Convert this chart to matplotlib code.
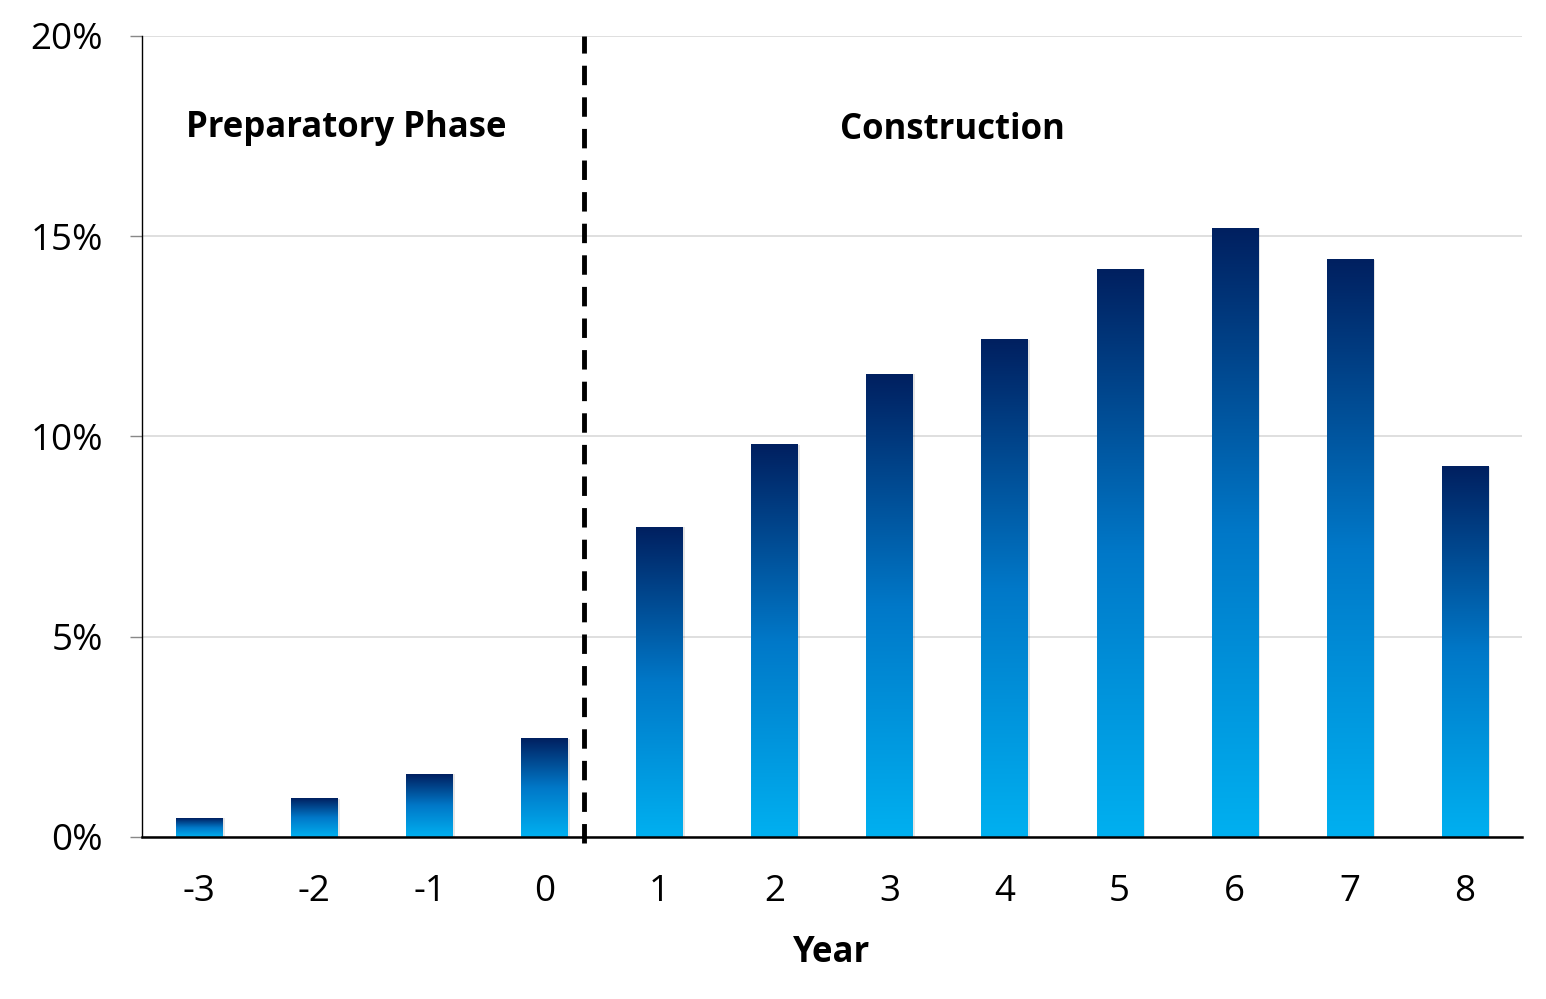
import numpy as np
import matplotlib.pyplot as plt
from matplotlib.colors import LinearSegmentedColormap
from matplotlib.patches import Rectangle
from matplotlib.ticker import PercentFormatter

plt.rcParams['font.family'] = ['Open Sans', 'DejaVu Sans']

# data (share of total, in %)
years = [-3, -2, -1, 0, 1, 2, 3, 4, 5, 6, 7, 8]
share = [0.47, 0.95, 1.57, 2.45, 7.74, 9.79, 11.56, 12.41, 14.18, 15.2, 14.41, 9.24]
phase_labels = ['Preparatory Phase', 'Construction']

fig = plt.figure(figsize=(15.46, 9.99), dpi=100)
ax = fig.add_axes([0.0918, 0.1622, 0.8927, 0.8018])

# navy at top -> blue -> cyan at bottom
cmap = LinearSegmentedColormap.from_list('bars', ['#00b0f0', '#0078c8', '#002060'])
grad = np.linspace(0, 1, 256).reshape(-1, 1)
width = 0.4

for x, h in zip(years, share):
    # soft shadow
    ax.add_patch(Rectangle((x - width / 2 + 0.025, 0), width, h, color='#000000',
                           alpha=0.1, lw=0, zorder=2))
    ax.imshow(grad, cmap=cmap, origin='lower', aspect='auto',
              extent=(x - width / 2, x + width / 2, 0, h), zorder=3)

ax.set_xlim(-3.5, 8.5)
ax.set_ylim(0, 20)

ax.yaxis.set_major_formatter(PercentFormatter(decimals=0))
ax.set_yticks([0, 5, 10, 15, 20])
ax.set_xticks(years)
ax.set_xticklabels([str(y) for y in years])
ax.tick_params(axis='y', labelsize=26.5, length=9, width=1, color='#888888', pad=19)
ax.tick_params(axis='x', labelsize=26.5, length=0, pad=27)
ax.grid(axis='y', color='#d9d9d9', lw=1.2, zorder=0)
ax.set_axisbelow(True)

for s in ['top', 'right']:
    ax.spines[s].set_visible(False)
ax.spines['left'].set_color('#000000')
ax.spines['left'].set_linewidth(1)
ax.spines['bottom'].set_linewidth(1.8)
ax.spines['bottom'].set_zorder(5)

ax.set_xlabel('Year', fontsize=25, fontweight='bold', labelpad=18)

# phase divider
ax.plot([0.34, 0.34], [-0.15, 20], ls=(0, (4, 2.5)), color='black', lw=3.5,
        clip_on=False, zorder=6)

ax.text(-1.72, 17.7, phase_labels[0], fontsize=25, fontweight='bold',
        ha='center', va='center')
ax.text(3.55, 17.65, phase_labels[1], fontsize=25, fontweight='bold',
        ha='center', va='center')

fig.savefig('out.png', dpi=100)
